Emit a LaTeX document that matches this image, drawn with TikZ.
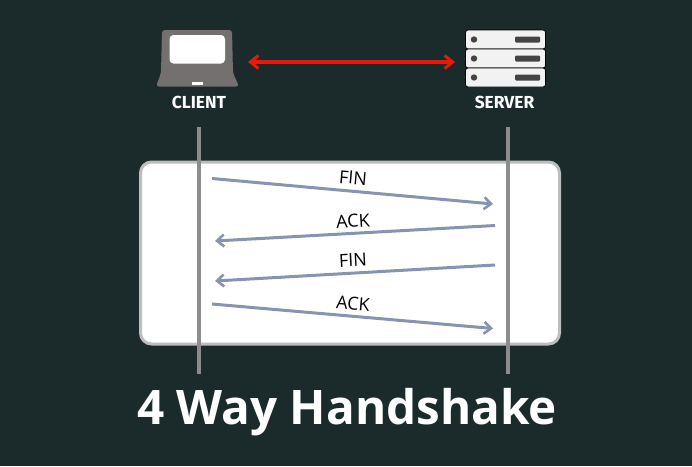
\documentclass[tikz,border=0pt]{standalone}
\usepackage{fontspec}
\setmainfont{Open Sans}
\newfontfamily\labelfont{Fira Sans}
\usetikzlibrary{arrows.meta,calc}
\definecolor{board}{HTML}{1B2B2B}
\definecolor{lapgrey}{HTML}{757070}
\definecolor{lifeline}{HTML}{8C8C8C}
\definecolor{msgblue}{HTML}{8794B0}
\definecolor{paneledge}{HTML}{BDBDBD}
\definecolor{srvwhite}{HTML}{F2F2F2}
\definecolor{srvdark}{HTML}{444444}
\definecolor{redarrow}{HTML}{E8190C}
\tikzset{
  x=1pt,y=-1pt,
  msg/.style={draw=msgblue,line width=3pt,-{Straight Barb[length=7pt,width=12pt,line width=2.6pt]}},
  msglabel/.style={font=\fontsize{18}{18}\selectfont,text=black,inner sep=0pt},
  life/.style={draw=lifeline,line width=4.2pt},
  hostlabel/.style={font=\labelfont\bfseries\fontsize{17.4}{18}\selectfont,text=white,inner sep=0pt},
  srvbox/.style={fill=srvwhite,draw=black,line width=0.8pt,rounded corners=2.5pt},
}
\begin{document}
\begin{tikzpicture}
\useasboundingbox (0,0) rectangle (692,466);
\fill[board] (0,0) rectangle (692,466);
% laptop icon
\fill[lapgrey,rounded corners=3pt] (162,30) -- (232,30) -- (233,73) -- (239,86.5) -- (156,86.5) -- (161,73) -- cycle;
\fill[white,rounded corners=4pt] (169.5,35) rectangle (225,63.5);
\fill[white] (192,82) rectangle (203,85);
\node[hostlabel] (client) at (199,102) {CLIENT};
% server icon
\node[srvbox,minimum width=80pt,minimum height=19pt,inner sep=0pt] (srvA) at (505.5,39.5) {};
\node[srvbox,minimum width=80pt,minimum height=19pt,inner sep=0pt] (srvB) at (505.5,58.5) {};
\node[srvbox,minimum width=80pt,minimum height=19pt,inner sep=0pt] (srvC) at (505.5,77.5) {};
\foreach \n/\yy in {A/39.5,B/58.5,C/77.5}{
  \fill[srvdark] (474,\yy) circle (3.2pt);
  \fill[srvdark,rounded corners=1pt] (515,\yy-3) rectangle (540,\yy+3);
}
\node[hostlabel] (server) at (504.5,102) {SERVER};
% red double arrow
\coordinate (redL) at (248,62);
\coordinate (redR) at (455,62);
\draw[draw=redarrow,line width=3.2pt,{Straight Barb[length=8pt,width=13pt,line width=3pt]}-{Straight Barb[length=8pt,width=13pt,line width=3pt]}] (redL) -- (redR);
% panel
\node[draw=paneledge,fill=white,line width=3pt,rounded corners=11pt,minimum width=419pt,minimum height=182pt,inner sep=0pt] (panel) at (350,253) {};
% lifelines
\coordinate (cTop) at (199,127);
\coordinate (cBot) at (199,374);
\coordinate (sTop) at (508,127);
\coordinate (sBot) at (508,374);
\draw[life] (cTop) -- (cBot);
\draw[life] (sTop) -- (sBot);
% messages
\coordinate (m1a) at (212,178.5);
\coordinate (m1b) at (493,204);
\coordinate (m2a) at (495,225.5);
\coordinate (m2b) at (215,241);
\coordinate (m3a) at (495,265);
\coordinate (m3b) at (215,281);
\coordinate (m4a) at (212,304);
\coordinate (m4b) at (493,328.5);
\draw[msg] (m1a) -- (m1b);
\draw[msg] (m2a) -- (m2b);
\draw[msg] (m3a) -- (m3b);
\draw[msg] (m4a) -- (m4b);
\node[msglabel,rotate=-5] (l1) at (353,178) {FIN};
\node[msglabel,rotate=3.5] (l2) at (353,221) {ACK};
\node[msglabel,rotate=3] (l3) at (353,260) {FIN};
\node[msglabel,rotate=-5] (l4) at (353,304) {ACK};
% title
\node[font=\bfseries\fontsize{47.6}{50}\selectfont,text=white,inner sep=0pt] (title) at (347,412) {4 Way Handshake};
\end{tikzpicture}
\end{document}
